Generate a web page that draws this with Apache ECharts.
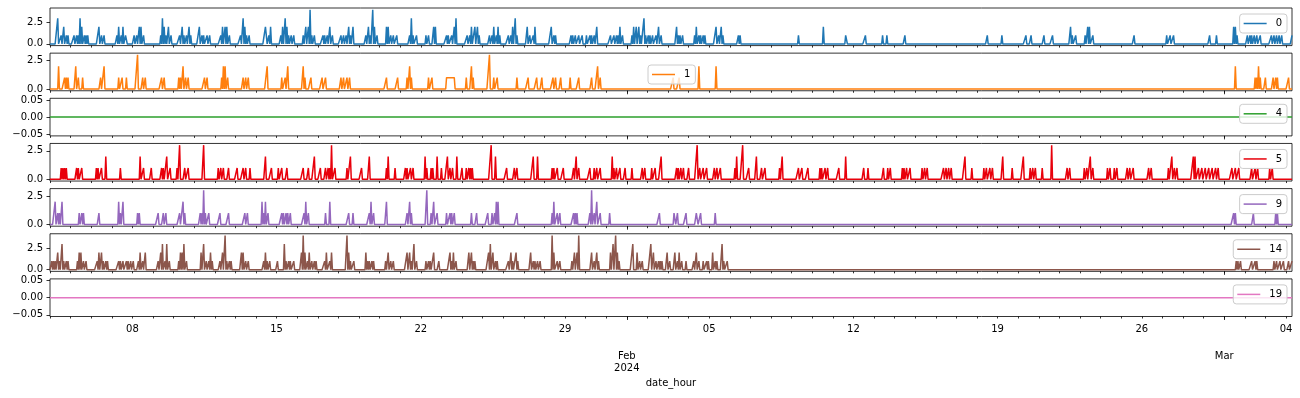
<!DOCTYPE html>
<html>
<head>
<meta charset="utf-8">
<script src="https://cdn.jsdelivr.net/npm/echarts@6/dist/echarts.min.js"></script>
<style>
  html, body { margin: 0; padding: 0; background: #fff; }
  #chart { width: 1300px; height: 398px; }
</style>
</head>
<body>
<div id="chart"></div>
<script>
// hourly series from 2024-01-04 00:00, stored as [hour offset, value]; every other hour is 0
var seriesNames = ['0', '1', '4', '5', '9', '14', '19'];
var seriesColors = ['#1f77b4', '#ff7f0e', '#2ca02c', '#e8000b', '#9467bd', '#8c564b', '#e377c2'];
var nHours = 1448;

var s0 = [[9,3],[13,1],[16,2],[19,1],[21,1],[28,1],[31,1],[33,1],[35,3],[37,2],[40,1],[42,1],[44,1],[57,2],[60,1],[63,1],[78,1],[80,2],[83,1],[85,2],[88,1],[89,1],[98,1],[101,1],[104,2],[106,2],[109,1],[129,1],[131,3],[133,2],[135,1],[138,2],[141,1],[151,1],[154,2],[156,1],[159,1],[162,2],[164,1],[174,2],[177,1],[179,1],[183,1],[186,1],[199,1],[201,2],[204,2],[206,2],[209,1],[222,1],[225,3],[227,2],[229,1],[232,1],[251,2],[252,2],[255,1],[257,2],[269,1],[271,2],[274,3],[276,2],[278,1],[281,1],[284,1],[295,1],[298,2],[301,2],[303,4],[305,1],[308,1],[318,1],[320,1],[323,1],[326,2],[329,1],[339,1],[342,1],[345,1],[348,2],[350,1],[353,2],[368,1],[371,2],[373,1],[376,4],[378,2],[381,1],[392,2],[394,2],[397,1],[400,1],[404,1],[419,1],[421,3],[423,1],[427,1],[438,1],[441,1],[447,2],[449,2],[462,1],[464,1],[468,1],[471,2],[473,3],
  [486,1],[489,1],[491,2],[495,2],[498,2],[500,1],[512,1],[515,1],[517,2],[520,1],[522,2],[524,1],[534,1],[537,1],[539,2],[542,3],[544,1],[556,2],[559,1],[563,1],[565,2],[584,2],[587,1],[589,1],[607,1],[609,1],[612,1],[616,1],[620,1],[625,1],[629,1],[631,1],[634,1],[637,2],[653,1],[657,1],[660,1],[662,1],[664,2],[667,1],[678,1],[680,2],[683,2],[686,2],[688,1],[692,3],[694,1],[697,1],[699,1],[702,1],[706,1],[709,2],[712,1],[730,2],[732,1],[734,1],[737,1],[751,1],[753,2],[756,1],[758,1],[761,1],[763,1],[776,2],[779,1],[782,2],[784,1],[802,1],[804,1],[872,1],[901,2],[927,1],[928,1],[950,1],
  [970,1],[975,1],[996,1],[1092,1],[1109,1],[1137,1],[1143,1],[1158,1],[1168,1],[1189,2],[1191,1],[1195,1],[1206,1],[1209,2],[1211,2],[1215,1],[1263,1],[1301,1],[1305,1],[1309,1],[1351,1],[1359,1],[1379,2],[1381,2],[1383,1],[1395,1],[1398,1],[1400,1],[1403,1],[1406,1],[1410,1],[1423,1],[1426,1],[1429,1],[1432,1],[1435,1],[1447,1]];

var s1 = [[10,2],[17,1],[19,1],[21,1],[30,2],[33,1],[38,1],[59,1],[63,2],[80,1],[84,1],[89,1],[102,3],[108,1],[111,1],[130,1],[133,1],[150,1],[152,1],[155,2],[158,1],[161,1],[180,1],[183,1],[200,1],[202,2],[204,2],[207,1],[225,1],[228,1],[231,1],[253,2],[270,1],[274,1],[277,2],[295,2],[297,1],[304,1],[317,1],[321,1],[339,1],[342,1],[346,1],[349,1],[392,1],[405,1],[416,1],[419,2],[421,1],[441,1],[445,1],
  [462,1],[463,1],[464,1],[465,1],[466,1],[467,1],[468,1],[469,1],[470,1],[471,1],
  [485,1],[491,2],[493,1],[512,3],[517,1],[521,1],[544,1],[557,1],[567,1],[573,1],[586,1],[589,1],[595,1],[606,1],[616,1],[631,1],[638,2],[641,1],[726,1],[733,1],[756,2],[776,2],
  [1381,2],[1404,1],[1406,1],[1408,2],[1410,1],[1416,1],[1425,1],[1428,1],[1430,1],[1443,1]];

var s4 = [];

var s5 = [[13,1],[15,1],[17,1],[19,1],[31,1],[33,1],[37,1],[54,1],[56,1],[60,1],[65,2],[82,1],[105,2],[109,1],[118,1],[130,1],[132,1],[136,2],[140,1],[148,1],[151,3],[157,1],[161,1],[179,3],[196,1],[199,1],[202,1],[208,1],[218,1],[225,1],[228,1],[233,1],[251,2],[258,1],[266,1],[270,1],[276,1],[295,1],[301,1],[308,2],[315,1],[321,1],[324,1],[326,1],[328,3],[332,1],[346,1],[350,2],[363,1],[372,2],[392,1],[394,2],[402,1],[414,1],[416,1],[420,1],[423,1],[437,2],[439,1],[444,1],[446,1],[451,2],[456,1],[463,2],[466,1],[469,1],[474,2],
  [480,1],[485,1],[488,1],[490,1],[492,1],[514,3],[519,2],[532,1],[541,1],[544,1],[563,2],[568,2],[585,1],[587,1],[591,1],[598,1],[610,1],[613,2],[616,1],[629,1],[634,1],[637,1],[641,1],[655,2],[657,1],[660,1],[664,1],[670,1],[678,1],[690,1],[693,1],[701,1],[705,1],[712,2],[730,1],[732,1],[735,1],[738,1],[744,1],[754,3],[757,1],[761,1],[765,1],[774,1],[777,1],[781,1],[798,1],[800,2],[807,3],[814,1],[823,2],[829,1],[833,1],[850,1],[853,2],[872,1],[876,1],[883,1],[897,1],[899,1],[903,1],[906,1],[919,1],[927,2],[948,1],[953,1],
  [971,1],[976,1],[979,1],[993,1],[995,1],[998,1],[1002,1],[1016,1],[1019,1],[1022,1],[1041,1],[1044,1],[1047,1],[1050,1],[1066,2],[1074,1],[1088,1],[1091,1],[1095,1],[1098,1],[1110,2],[1121,1],[1134,2],[1142,1],[1145,1],[1148,1],[1156,1],[1167,3],[1185,1],[1188,1],[1205,1],[1208,1],[1212,2],[1215,1],[1232,1],[1235,1],[1240,1],[1243,1],[1255,1],[1258,1],[1262,1],[1280,1],[1283,1],[1303,1],[1307,2],[1310,1],[1313,1],[1332,2],[1334,2],[1338,1],[1342,1],[1346,1],[1350,1],[1354,1],[1358,1],[1361,1],[1377,1],[1381,1],[1385,1],[1400,1],[1404,1],[1407,1],[1421,1],[1424,1]];

var s9 = [[6,2],[9,1],[11,1],[14,2],[34,1],[37,1],[39,1],[57,1],[80,2],[82,1],[85,2],[102,1],[104,1],[126,1],[132,1],[135,1],[151,1],[155,2],[157,1],[175,1],[177,1],[179,3],[181,1],[185,1],[198,1],[208,1],[227,1],[230,1],[247,2],[249,1],[251,2],[254,1],[270,1],[272,1],[275,1],[277,1],[280,1],[296,1],[298,2],[301,1],[321,1],[326,2],[348,1],[353,1],[372,1],[374,2],[377,1],[392,2],[416,1],[419,2],[421,1],[439,3],[444,1],[447,2],[451,1],[462,1],[466,1],[468,1],[471,1],
  [491,1],[497,1],[510,1],[515,1],[518,1],[520,2],[522,2],[544,1],[585,1],[587,2],[591,1],[594,1],[610,1],[612,1],[614,1],[629,1],[631,3],[634,1],[637,2],[641,1],[652,1],[710,1],[727,1],[728,1],[731,1],[741,1],[753,1],[754,1],[758,1],[775,1],
  [1379,1],[1381,1],[1402,1],[1428,1],[1430,1]];

var s14 = [[2,1],[4,1],[6,1],[9,2],[11,1],[14,3],[16,1],[19,1],[21,1],[32,1],[34,2],[36,2],[39,1],[42,1],[55,1],[57,2],[60,2],[62,1],[65,1],[67,1],[80,1],[82,1],[85,1],[89,1],[91,1],[94,1],[97,1],[103,1],[105,2],[108,1],[111,2],[126,1],[129,2],[131,3],[134,1],[136,3],[139,1],[150,1],[152,2],[154,2],[156,3],[159,1],[176,2],[179,3],[182,1],[185,1],[187,2],[189,1],[198,1],[201,2],[204,4],[206,1],[209,1],[211,1],[223,2],[225,2],[228,1],[231,1],[249,1],[251,2],[253,1],[256,1],[265,1],[273,3],[275,1],[278,1],[280,1],[284,1],[293,2],[295,4],[297,2],[300,1],[302,2],[305,1],[308,1],[310,1],[320,1],[322,2],[326,1],[328,2],[346,4],[348,2],[350,1],[354,1],[368,2],[370,1],[372,1],[375,1],[377,1],[391,1],[394,2],[397,1],[400,1],[416,2],[419,2],[421,1],[424,3],[427,1],[438,1],[441,1],[443,1],[447,2],[453,1],[466,2],[468,1],[470,2],[473,1],
  [488,2],[490,1],[491,2],[493,1],[495,1],[511,2],[513,3],[516,2],[519,1],[521,1],[534,1],[537,2],[539,1],[543,2],[545,1],[560,2],[563,1],[565,1],[568,1],[571,1],[585,4],[587,2],[591,1],[594,1],[608,1],[611,2],[614,2],[616,4],[631,2],[634,1],[637,2],[639,1],[653,2],[656,3],[659,4],[661,2],[663,1],[679,3],[684,2],[687,1],[690,1],[700,3],[703,2],[706,1],[709,1],[711,1],[713,1],[719,2],[722,1],[728,2],[731,1],[733,2],[736,1],[741,1],[750,1],[753,2],[756,1],[761,1],[765,1],[767,1],[772,2],[775,1],[777,1],[783,3],[785,1],[789,1],
  [1382,1],[1384,1],[1387,1],[1400,1],[1404,1],[1406,1],[1426,1],[1429,1],[1433,1],[1437,1],[1443,1],[1447,1]];

var s19 = [];

// x tick labels, [month index, day]
var dayLabelDates = [[0,8],[0,15],[0,22],[0,29],[1,5],[1,12],[1,19],[1,26],[2,4]];
var monthLabelDates = [[1,1],[2,1]];
var monthLabels = ['Feb\n2024', 'Mar'];

// y ranges and tick labels for each panel
var yMin = [-0.2, -0.15, -0.055, -0.15, -0.15, -0.2, -0.055];
var yMax = [4.2, 3.15, 0.055, 3.15, 3.15, 4.2, 0.055];
var yTicksInt = [0, 2.5];
var yTicksZero = [-0.05, 0, 0.05];

var H = 3600 * 1000;
var t0 = Date.UTC(2024, 0, 4);
var tEnd = t0 + (nHours - 1) * H;

function expand(spikes) {
    var vals = [];
    for (var i = 0; i < nHours; i++) vals.push(0);
    spikes.forEach(function (p) { vals[p[0]] = p[1]; });
    return vals.map(function (v, i) { return [t0 + i * H, v]; });
}

var allSpikes = [s0, s1, s4, s5, s9, s14, s19];

var dayTicks = [];
for (var d = 0; d <= 60; d++) dayTicks.push(Date.UTC(2024, 0, 4 + d));
var dayLabelTicks = dayLabelDates.map(function (m) { return Date.UTC(2024, m[0], m[1]); });
var monthTicks = monthLabelDates.map(function (m) { return Date.UTC(2024, m[0], m[1]); });

var font = 'DejaVu Sans';
var gridTop0 = 8, gridStep = 45.15, gridH = 37.6;

var grids = [], xAxes = [], yAxes = [], series = [], legends = [];
seriesNames.forEach(function (name, i) {
    var top = gridTop0 + i * gridStep;
    var isLast = i === seriesNames.length - 1;
    var isZero = allSpikes[i].length === 0;
    grids.push({
        left: 50, right: 8, top: top, height: gridH,
        show: true, borderColor: '#000', borderWidth: 0.8, backgroundColor: 'transparent'
    });
    // daily ticks, day labels
    xAxes.push({
        type: 'value', gridIndex: i, min: t0, max: tEnd, position: 'bottom',
        axisLine: { show: false, onZero: false },
        splitLine: { show: false },
        axisTick: { show: true, customValues: dayTicks, length: 2, lineStyle: { color: '#000', width: 0.8 } },
        axisLabel: {
            show: isLast, customValues: dayLabelTicks, margin: 8,
            fontFamily: font, fontSize: 10, color: '#000',
            formatter: function (v) {
                var dd = new Date(v).getUTCDate();
                return (dd < 10 ? '0' : '') + dd;
            }
        }
    });
    // month ticks, month labels
    xAxes.push({
        type: 'value', gridIndex: i, min: t0, max: tEnd, position: 'bottom',
        axisLine: { show: false, onZero: false },
        splitLine: { show: false },
        axisTick: { show: true, customValues: monthTicks, length: 3.5, lineStyle: { color: '#000', width: 0.8 } },
        axisLabel: {
            show: isLast, customValues: monthTicks, margin: 33.5,
            fontFamily: font, fontSize: 10, color: '#000', lineHeight: 12.6,
            formatter: function (v) {
                var k = monthTicks.indexOf(v);
                return k >= 0 ? monthLabels[k] : '';
            }
        }
    });
    var ticks = isZero ? yTicksZero : yTicksInt;
    yAxes.push({
        type: 'value', gridIndex: i, min: yMin[i], max: yMax[i],
        axisLine: { show: false, onZero: false },
        splitLine: { show: false },
        axisTick: { show: true, customValues: ticks, length: 3.5, lineStyle: { color: '#000', width: 0.8 } },
        axisLabel: {
            customValues: ticks, margin: 7,
            fontFamily: font, fontSize: 10, color: '#000',
            formatter: function (v) {
                if (isZero) return (v < 0 ? '\u2212' : '') + Math.abs(v).toFixed(2);
                return v.toFixed(1);
            }
        }
    });
    series.push({
        name: name, type: 'line', xAxisIndex: i * 2, yAxisIndex: i,
        data: expand(allSpikes[i]),
        symbol: 'none', showSymbol: false,
        lineStyle: { color: seriesColors[i], width: 1.5 },
        itemStyle: { color: seriesColors[i] }
    });
    var lg = {
        data: [name], orient: 'horizontal',
        top: top + 6,
        icon: 'rect', itemWidth: 23, itemHeight: 1.5,
        padding: [4, 5, 4, 4],
        backgroundColor: 'rgba(255,255,255,0.8)',
        borderColor: '#cccccc', borderWidth: 1, borderRadius: 3,
        textStyle: { fontFamily: font, fontSize: 10, color: '#000', lineHeight: 11, padding: [0, 0, 0, 4] },
        selectedMode: false
    };
    if (name === '1') { lg.left = 648; lg.top = 65; } else { lg.right = 13; }
    legends.push(lg);
});

var chart = echarts.init(document.getElementById('chart'), null, { renderer: 'canvas' });
chart.setOption({
    animation: false,
    backgroundColor: '#fff',
    textStyle: { fontFamily: font },
    grid: grids,
    xAxis: xAxes,
    yAxis: yAxes,
    legend: legends,
    series: series,
    graphic: [{
        type: 'text', x: 671, y: 383,
        style: { text: 'date_hour', fontFamily: font, fontSize: 10, fill: '#000', textAlign: 'center', textVerticalAlign: 'middle' }
    }]
});
</script>
</body>
</html>
